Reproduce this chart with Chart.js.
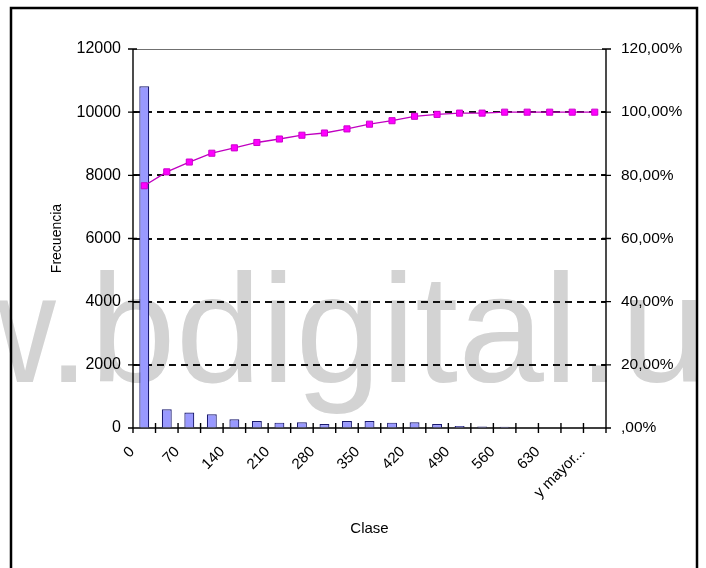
<!DOCTYPE html>
<html>
<head>
<meta charset="utf-8">
<script src="https://cdn.jsdelivr.net/npm/chart.js@4.4.1/dist/chart.umd.min.js"></script>
<style>
  html, body { margin: 0; padding: 0; background: #fff; }
  #c { display: block; }
</style>
</head>
<body>
<canvas id="c" width="706" height="568"></canvas>
<script>
// Clases del histograma (límite superior de cada intervalo)
const clases = ['0', '35', '70', '105', '140', '175', '210', '245', '280', '315', '350',
                '385', '420', '455', '490', '525', '560', '595', '630', '665', 'y mayor...'];

// Frecuencia absoluta de cada clase
const frecuencia = [10820, 590, 490, 435, 276, 222, 170, 180, 127, 222, 222,
                    170, 180, 127, 60, 50, 40, 0, 0, 0, 0];

// Porcentaje acumulado
const acumulado = [76.7, 81.1, 84.2, 87.0, 88.7, 90.4, 91.5, 92.7, 93.4, 94.7, 96.2,
                   97.3, 98.7, 99.3, 99.7, 99.7, 100, 100, 100, 100, 100];

// Marcas de los ejes
const frecuenciaTicks = [0, 2000, 4000, 6000, 8000, 10000, 12000];
const porcentajeTicks = [',00%', '20,00%', '40,00%', '60,00%', '80,00%', '100,00%', '120,00%'];

const FONT = '"Liberation Sans", Arial, sans-serif';

// Fondo, marca de agua, cuadrícula discontinua, ejes con marcas cruzadas y marco exterior
const marco = {
  id: 'marco',
  beforeDraw(chart) {
    const ctx = chart.ctx;
    ctx.save();
    ctx.fillStyle = '#ffffff';
    ctx.fillRect(0, 0, chart.width, chart.height);
    ctx.font = '154px ' + FONT;
    ctx.fillStyle = '#d3d3d3';
    ctx.textBaseline = 'alphabetic';
    const texto = 'www.bdigital.unal.edu.co';
    const x0 = 90 - ctx.measureText('www.').width;
    ctx.fillText(texto, x0, 382);
    ctx.restore();
  },
  beforeDatasetsDraw(chart) {
    const { ctx, chartArea: a, scales } = chart;
    const y = scales.y, y1 = scales.y1, x = scales.x;
    ctx.save();
    // líneas de división
    ctx.strokeStyle = '#111';
    ctx.lineWidth = 1.8;
    ctx.setLineDash([7, 5]);
    frecuenciaTicks.forEach(v => {
      if (v === frecuenciaTicks[0] || v === frecuenciaTicks[frecuenciaTicks.length - 1]) return;
      const py = Math.round(y.getPixelForValue(v));
      ctx.beginPath();
      ctx.moveTo(a.left, py);
      ctx.lineTo(a.right, py);
      ctx.stroke();
    });
    ctx.setLineDash([]);
    // borde superior del área de trazado
    ctx.strokeStyle = '#707070';
    ctx.lineWidth = 1;
    ctx.beginPath();
    ctx.moveTo(a.left, Math.round(a.top) + 0.5);
    ctx.lineTo(a.right, Math.round(a.top) + 0.5);
    ctx.stroke();
    // ejes
    ctx.strokeStyle = '#000';
    ctx.lineWidth = 1.4;
    ctx.beginPath();
    ctx.moveTo(a.left, a.top); ctx.lineTo(a.left, a.bottom);
    ctx.moveTo(a.right, a.top); ctx.lineTo(a.right, a.bottom);
    ctx.moveTo(a.left, a.bottom); ctx.lineTo(a.right, a.bottom);
    // marcas del eje izquierdo
    frecuenciaTicks.forEach(v => {
      const py = y.getPixelForValue(v);
      ctx.moveTo(a.left - 5, py); ctx.lineTo(a.left + 4, py);
    });
    // marcas del eje derecho
    porcentajeTicks.forEach((t, i) => {
      const py = y1.getPixelForValue(i * 20);
      ctx.moveTo(a.right - 4, py); ctx.lineTo(a.right + 5, py);
    });
    // marcas del eje de categorías (entre clases)
    for (let i = 0; i <= clases.length; i++) {
      const px = x.getPixelForValue(i - 0.5);
      ctx.moveTo(px, a.bottom - 5); ctx.lineTo(px, a.bottom + 5);
    }
    ctx.stroke();
    ctx.restore();
  },
  afterDraw(chart) {
    const ctx = chart.ctx;
    ctx.save();
    ctx.strokeStyle = '#000';
    ctx.lineWidth = 2.5;
    ctx.strokeRect(11, 8, 686, 600);
    ctx.restore();
  }
};

new Chart(document.getElementById('c'), {
  type: 'bar',
  data: {
    labels: clases,
    datasets: [
      {
        type: 'line',
        label: 'Porcentaje acumulado',
        data: acumulado,
        yAxisID: 'y1',
        borderColor: '#c000c0',
        borderWidth: 1.3,
        tension: 0,
        pointStyle: 'rect',
        pointRadius: 4.3,
        pointBackgroundColor: '#ff00ff',
        pointBorderColor: '#cc00cc',
        pointBorderWidth: 1,
        order: 0
      },
      {
        label: 'Frecuencia',
        data: frecuencia,
        yAxisID: 'y',
        backgroundColor: '#9999ff',
        borderColor: '#1a1a70',
        borderWidth: 1.2,
        barPercentage: 0.44,
        categoryPercentage: 1,
        order: 1
      }
    ]
  },
  options: {
    responsive: false,
    animation: false,
    layout: { padding: { top: 49, left: 0, right: 0, bottom: 0 } },
    plugins: { legend: { display: false }, tooltip: { enabled: false } },
    scales: {
      x: {
        offset: true,
        grid: { display: true, color: 'transparent', tickLength: 6, offset: true },
        border: { display: false },
        ticks: {
          autoSkip: false,
          minRotation: 45,
          maxRotation: 45,
          labelOffset: -12,
          padding: 9,
          color: '#000',
          font: { family: FONT, size: 15 },
          callback(v, i) { return i % 2 === 0 ? clases[i] : ''; }
        },
        title: {
          display: true,
          text: 'Clase',
          color: '#000',
          font: { family: FONT, size: 15 },
          padding: { top: 0, bottom: 30 }
        },
        afterFit(s) { s.height = 140; }
      },
      y: {
        position: 'left',
        min: 0,
        max: 12000,
        grid: { color: 'transparent', tickLength: 6 },
        border: { display: false },
        ticks: {
          stepSize: 2000,
          padding: 6,
          color: '#000',
          font: { family: FONT, size: 16 },
          callback(v) { return String(v); }
        },
        title: {
          display: true,
          text: 'Frecuencia',
          color: '#000',
          font: { family: FONT, size: 14 },
          padding: { top: 49, bottom: 0 }
        },
        afterFit(s) { s.width = 133; }
      },
      y1: {
        position: 'right',
        min: 0,
        max: 120,
        grid: { drawOnChartArea: false, color: 'transparent', tickLength: 6 },
        border: { display: false },
        ticks: {
          stepSize: 20,
          padding: 9,
          color: '#000',
          font: { family: FONT, size: 15.5 },
          callback(v) { return porcentajeTicks[Math.round(v / 20)]; }
        },
        afterFit(s) { s.width = 100; }
      }
    }
  },
  plugins: [marco]
});
</script>
</body>
</html>
